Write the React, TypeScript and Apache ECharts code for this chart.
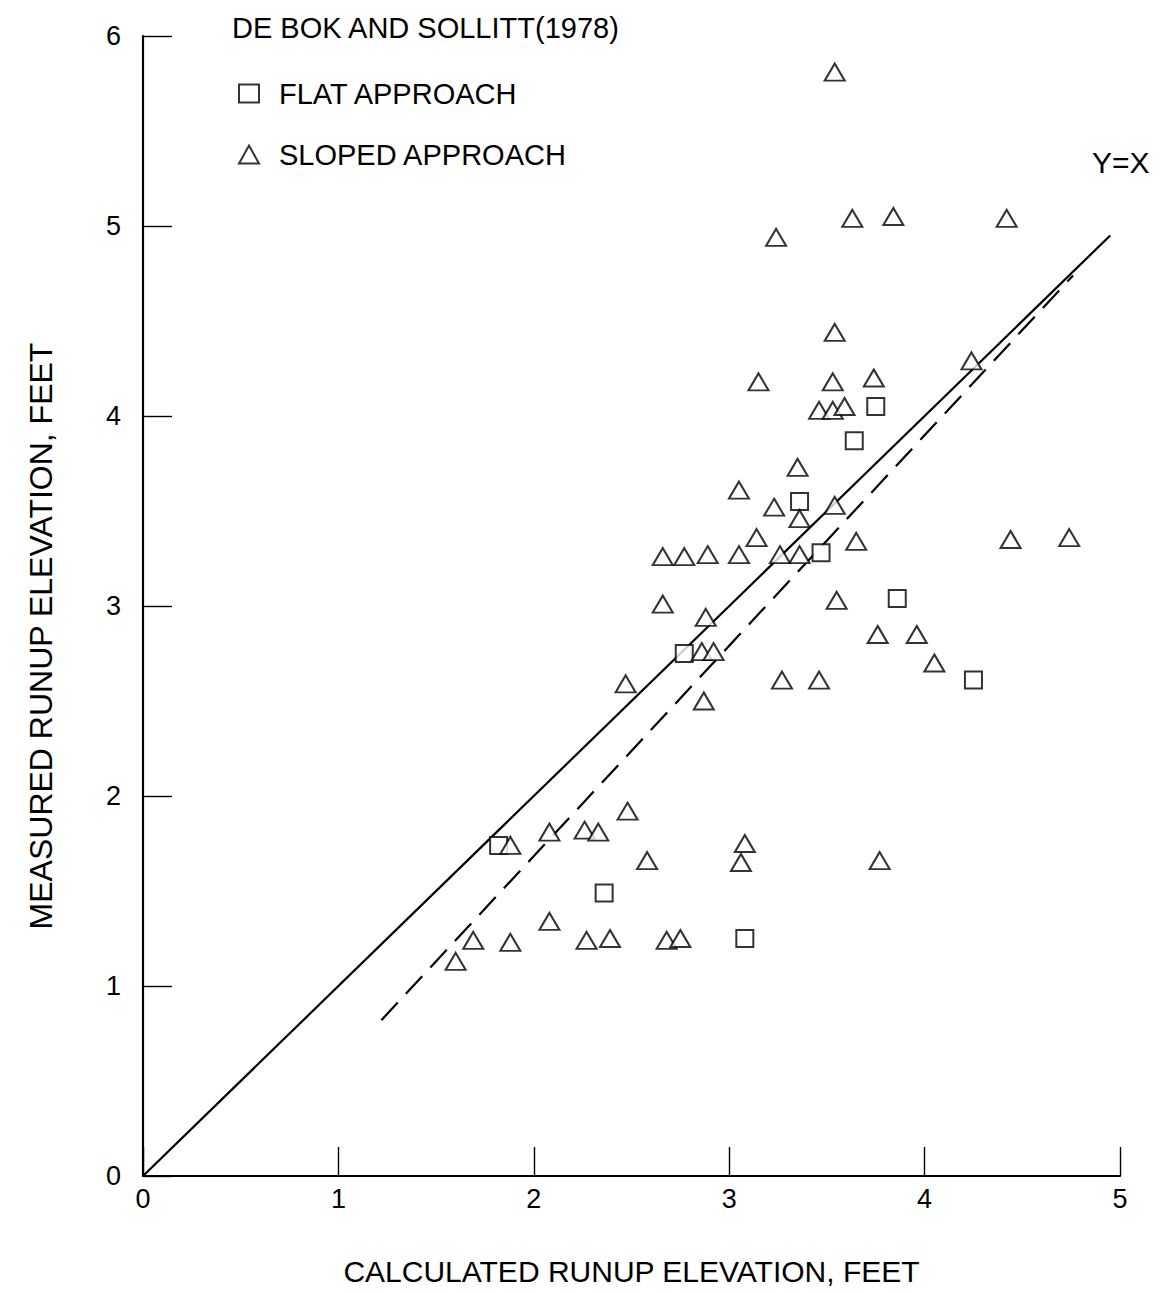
import React, { useEffect, useRef } from "react";
import * as echarts from "echarts";

const FONT = '"Liberation Sans", Arial, Helvetica, sans-serif';

// Flat approach (squares)
const flatX = [3.75, 3.64, 3.36, 3.47, 3.86, 2.77, 4.25, 1.82, 2.36, 3.08];
const flatY = [4.05, 3.87, 3.55, 3.28, 3.04, 2.75, 2.61, 1.74, 1.49, 1.25];

// Sloped approach (triangles)
const slopedX = [
  3.54, 3.24, 3.63, 3.84, 4.42, 3.54, 3.15, 3.53, 3.74, 3.46,
  3.53, 3.59, 4.24, 3.35, 3.05, 3.23, 3.54, 3.36, 3.14, 3.65,
  4.44, 4.74, 2.66, 2.77, 2.89, 3.05, 3.26, 3.36, 2.66, 3.55,
  2.88, 3.76, 3.96, 2.86, 2.92, 4.05, 2.47, 3.27, 3.46, 2.87,
  1.88, 2.08, 2.26, 2.33, 2.48, 2.58, 3.08, 3.06, 3.77, 2.08,
  1.69, 1.88, 2.27, 2.39, 2.68, 2.75, 1.6,
];
const slopedY = [
  5.81, 4.94, 5.04, 5.05, 5.04, 4.44, 4.18, 4.18, 4.2, 4.03,
  4.03, 4.05, 4.29, 3.73, 3.61, 3.52, 3.53, 3.46, 3.36, 3.34,
  3.35, 3.36, 3.26, 3.26, 3.27, 3.27, 3.27, 3.27, 3.01, 3.03,
  2.94, 2.85, 2.85, 2.76, 2.76, 2.7, 2.59, 2.61, 2.61, 2.5,
  1.74, 1.81, 1.82, 1.81, 1.92, 1.66, 1.75, 1.65, 1.66, 1.34,
  1.24, 1.23, 1.24, 1.25, 1.24, 1.25, 1.13,
];

// Reference lines
const lineYX = [
  [0, 0],
  [4.95, 4.95],
];
const lineDashed = [
  [1.22, 0.82],
  [4.76, 4.74],
];

const xTicks = { min: 0, max: 5, interval: 1 };
const yTicks = { min: 0, max: 6, interval: 1 };

const titleText = "DE BOK AND SOLLITT(1978)";
const flatName = "FLAT APPROACH";
const slopedName = "SLOPED APPROACH";
const lineLabel = "Y=X";
const xName = "CALCULATED RUNUP ELEVATION, FEET";
const yName = "MEASURED RUNUP ELEVATION, FEET";

export default function App() {
  const ref = useRef<HTMLDivElement>(null);

  useEffect(() => {
    if (!ref.current) return;
    const chart = echarts.init(ref.current, null, { renderer: "svg" });

    const flatData = flatX.map((x, i) => [x, flatY[i]]);
    const slopedData = slopedX.map((x, i) => [x, slopedY[i]]);

    const axisCommon = {
      type: "value" as const,
      axisLine: { show: true, lineStyle: { color: "#000", width: 2.2 } },
      axisTick: { show: true, inside: true, length: 29, lineStyle: { color: "#000", width: 1.4 } },
      splitLine: { show: false },
      nameLocation: "middle" as const,
    };

    chart.setOption({
      animation: false,
      backgroundColor: "#fff",
      textStyle: { fontFamily: FONT, color: "#000" },
      grid: { left: 143, top: 36, width: 977, height: 1140, containLabel: false },
      legend: {
        data: [flatName, slopedName],
        orient: "vertical",
        left: 233,
        top: 74,
        itemWidth: 20,
        itemHeight: 18,
        itemGap: 32,
        textStyle: { fontSize: 29, color: "#000", fontFamily: FONT, padding: [0, 0, 0, 15] },
      },
      xAxis: {
        ...axisCommon,
        ...xTicks,
        name: xName,
        nameGap: 80,
        nameTextStyle: { color: "#000", fontSize: 30, fontFamily: FONT },
        axisLabel: { color: "#000", fontSize: 27, margin: 9, fontFamily: FONT },
      },
      yAxis: {
        ...axisCommon,
        ...yTicks,
        axisLabel: { color: "#000", fontSize: 27, margin: 22, fontFamily: FONT },
      },
      graphic: [
        {
          type: "text",
          left: 232,
          top: 13,
          style: { text: titleText, fontSize: 29, fill: "#000", fontFamily: FONT },
        },
        {
          type: "text",
          left: 1092,
          top: 147,
          style: { text: lineLabel, fontSize: 30, fill: "#000", fontFamily: FONT },
        },
        {
          type: "text",
          x: 41,
          y: 636,
          rotation: Math.PI / 2,
          style: {
            text: yName,
            fontSize: 32,
            fill: "#000",
            fontFamily: FONT,
            align: "center",
            verticalAlign: "middle",
          },
        },
      ],
      series: [
        {
          name: lineLabel,
          type: "line",
          data: lineYX,
          symbol: "none",
          lineStyle: { color: "#000", width: 2.2 },
          z: 1,
        },
        {
          name: "dashed",
          type: "line",
          data: lineDashed,
          symbol: "none",
          lineStyle: { color: "#000", width: 2.2, type: [24, 12] },
          z: 1,
        },
        {
          name: flatName,
          type: "scatter",
          data: flatData,
          symbol: "rect",
          symbolSize: 17,
          itemStyle: { color: "#fff", borderColor: "#000", borderWidth: 2 },
          z: 3,
        },
        {
          name: slopedName,
          type: "scatter",
          data: slopedData,
          symbol: "triangle",
          symbolSize: [20, 17],
          itemStyle: { color: "#fff", borderColor: "#000", borderWidth: 2 },
          z: 3,
        },
      ],
    });

    return () => chart.dispose();
  }, []);

  return (
    <div
      ref={ref}
      style={{ position: "absolute", left: 0, top: 0, width: 1168, height: 1293, background: "#fff" }}
    />
  );
}
